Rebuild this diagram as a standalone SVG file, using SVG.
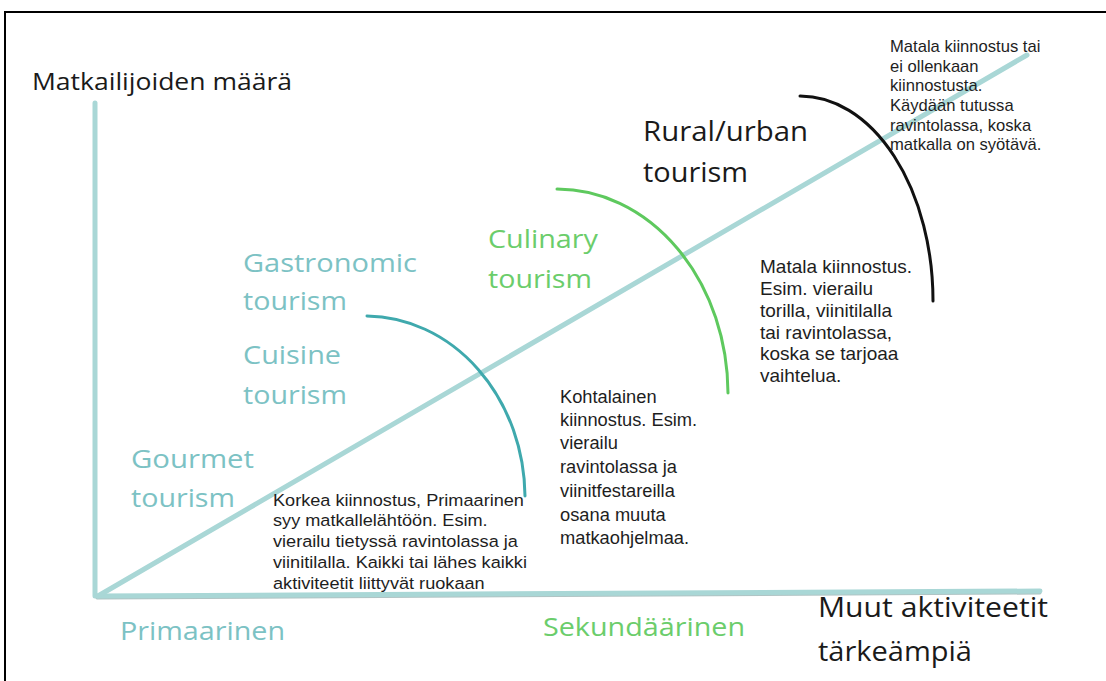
<svg xmlns="http://www.w3.org/2000/svg" width="1106" height="681" viewBox="0 0 1106 681">
<style>
.big{font-family:"Open Sans","Noto Sans",sans-serif;}
.teal{fill:#7cc2c4;}
.green{fill:#6bcd6b;}
.dark{fill:#1a1a1a;}
.note{font-family:"Liberation Sans",Arial,sans-serif;fill:#1e1e1e;}
.axis{stroke:#a9d7d6;stroke-width:5;stroke-linecap:round;fill:none;}
.arc{fill:none;stroke-width:3;stroke-linecap:round;}
</style>
<rect x="0" y="0" width="1106" height="681" fill="#ffffff"/>
<rect x="5" y="12" width="1200" height="800" fill="none" stroke="#000" stroke-width="2"/>
<g id="connectors">
  <line class="axis" x1="95" y1="103" x2="95" y2="596"/>
  <line x1="97" y1="598" x2="1040" y2="593" stroke="#b0c4c4" stroke-width="3" stroke-linecap="round"/>
  <line class="axis" x1="97" y1="596" x2="1040" y2="591"/>
  <line class="axis" x1="98" y1="596" x2="1027" y2="55" stroke-width="4"/>
  <path class="arc" stroke="#3fa9ad" d="M367,316 A160,182 0 0 1 525,496"/>
  <path class="arc" stroke="#5ec95e" d="M557,189 A171,205 0 0 1 728,393"/>
  <path class="arc" stroke="#111111" d="M800,96 A133,205 0 0 1 933,301"/>
</g>
<g id="y-axis-label"><text class="big dark" x="32" y="90" font-size="23" textLength="260" lengthAdjust="spacingAndGlyphs">Matkailijoiden määrä</text></g>
<g id="gastronomic" class="big teal" font-size="26">
  <text x="243" y="272" textLength="174" lengthAdjust="spacingAndGlyphs">Gastronomic</text>
  <text x="243" y="310" textLength="104" lengthAdjust="spacingAndGlyphs">tourism</text>
</g>
<g id="cuisine" class="big teal" font-size="26">
  <text x="243" y="364" textLength="98" lengthAdjust="spacingAndGlyphs">Cuisine</text>
  <text x="243" y="404" textLength="104" lengthAdjust="spacingAndGlyphs">tourism</text>
</g>
<g id="gourmet" class="big teal" font-size="26">
  <text x="131" y="468" textLength="123" lengthAdjust="spacingAndGlyphs">Gourmet</text>
  <text x="131" y="507" textLength="104" lengthAdjust="spacingAndGlyphs">tourism</text>
</g>
<g id="culinary" class="big green" font-size="26">
  <text x="488" y="248" textLength="110" lengthAdjust="spacingAndGlyphs">Culinary</text>
  <text x="488" y="288" textLength="104" lengthAdjust="spacingAndGlyphs">tourism</text>
</g>
<g id="rural-urban" class="big dark" font-size="27">
  <text x="643" y="141" textLength="165" lengthAdjust="spacingAndGlyphs">Rural/urban</text>
  <text x="643" y="182" textLength="105" lengthAdjust="spacingAndGlyphs">tourism</text>
</g>
<g id="primaarinen"><text class="big teal" x="120" y="640" font-size="25" textLength="165" lengthAdjust="spacingAndGlyphs">Primaarinen</text></g>
<g id="sekundaarinen"><text class="big green" x="543" y="636" font-size="25" textLength="202" lengthAdjust="spacingAndGlyphs">Sekundäärinen</text></g>
<g id="muut" class="big dark" font-size="27">
  <text x="818" y="617" textLength="230" lengthAdjust="spacingAndGlyphs">Muut aktiviteetit</text>
  <text x="818" y="661" textLength="154" lengthAdjust="spacingAndGlyphs">tärkeämpiä</text>
</g>
<g id="note-korkea" class="note" font-size="16.5" transform="translate(273,0) scale(1.1,1) translate(-273,0)">
  <text x="273" y="506">Korkea kiinnostus, Primaarinen</text>
  <text x="273" y="526">syy matkallelähtöön. Esim.</text>
  <text x="273" y="547">vierailu tietyssä ravintolassa ja</text>
  <text x="273" y="568">viinitilalla. Kaikki tai lähes kaikki</text>
  <text x="273" y="589">aktiviteetit liittyvät ruokaan</text>
</g>
<g id="note-kohtalainen" class="note" font-size="18.3">
  <text x="560" y="403">Kohtalainen</text>
  <text x="560" y="426">kiinnostus. Esim.</text>
  <text x="560" y="449">vierailu</text>
  <text x="560" y="473">ravintolassa ja</text>
  <text x="560" y="497">viinitfestareilla</text>
  <text x="560" y="521">osana muuta</text>
  <text x="560" y="544">matkaohjelmaa.</text>
</g>
<g id="note-matala" class="note" font-size="19">
  <text x="760" y="273">Matala kiinnostus.</text>
  <text x="760" y="295">Esim. vierailu</text>
  <text x="760" y="317">torilla, viinitilalla</text>
  <text x="760" y="339">tai ravintolassa,</text>
  <text x="760" y="360">koska se tarjoaa</text>
  <text x="760" y="382">vaihtelua.</text>
</g>
<g id="note-ei" class="note" font-size="16.6">
  <text x="890" y="52">Matala kiinnostus tai</text>
  <text x="890" y="72">ei ollenkaan</text>
  <text x="890" y="91">kiinnostusta.</text>
  <text x="890" y="111">Käydään tutussa</text>
  <text x="890" y="131">ravintolassa, koska</text>
  <text x="890" y="150">matkalla on syötävä.</text>
</g>
</svg>
